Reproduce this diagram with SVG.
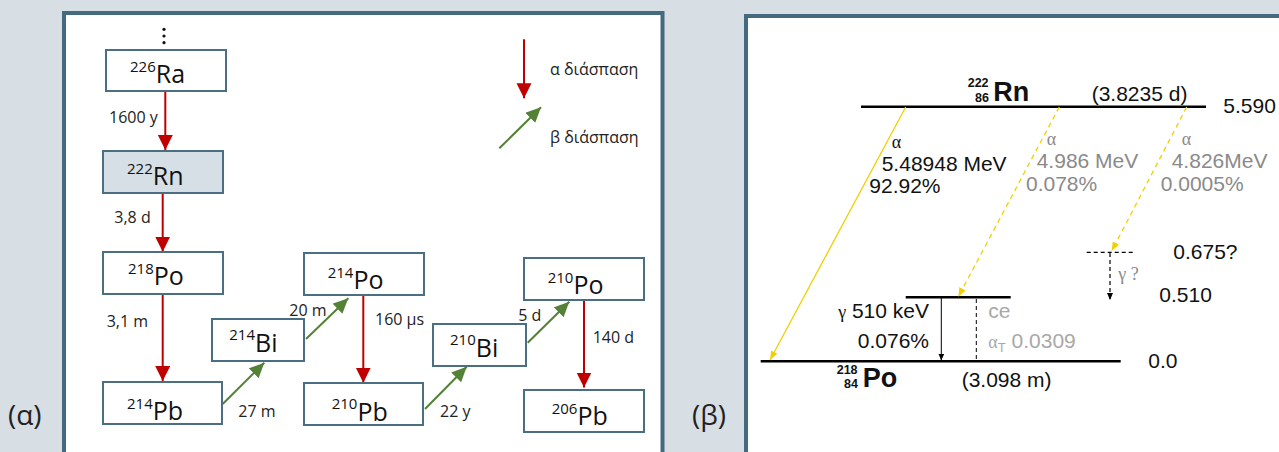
<svg xmlns="http://www.w3.org/2000/svg" width="1279" height="452" viewBox="0 0 1279 452">
<style>
.panel{fill:#fff;stroke:#436a7e;stroke-width:4}
.box{fill:#fff;stroke:#4a6f83;stroke-width:2}
.boxg{fill:#d6dfe5;stroke:#4a6f83;stroke-width:2}
.sup{font-family:"Open Sans","Liberation Sans",sans-serif;font-size:15px;fill:#111}
.el{font-family:"Open Sans","Liberation Sans",sans-serif;font-size:25px;fill:#111}
.lab{font-family:"Open Sans","Liberation Sans",sans-serif;font-size:16px;fill:#222}
.big{font-family:"Open Sans","Liberation Sans",sans-serif;font-size:28px;fill:#222}
.red{stroke:#c00000;stroke-width:2;fill:none}
.grn{stroke:#538135;stroke-width:2;fill:none}
.t{font-family:"Liberation Sans",Arial,sans-serif;font-size:21px;fill:#111}
.g{fill:#8a8a8a}
.lg{fill:#a8a8a8}
.gr{font-family:"Liberation Serif","Times New Roman",serif;font-size:18px}
.nb{font-family:"Liberation Sans",Arial,sans-serif;font-weight:bold;fill:#111}
.lvl{stroke:#000;stroke-width:2.5}
.yel{stroke:#f0d000;stroke-width:1.3;fill:none}
.dash{stroke-dasharray:5,4}
</style>
<defs>
<marker id="ar" markerUnits="userSpaceOnUse" markerWidth="16" markerHeight="16" refX="15" refY="7.5" orient="auto"><path d="M0,0L15,7.5L0,15z" fill="#c00000"/></marker>
<marker id="ag" markerUnits="userSpaceOnUse" markerWidth="16" markerHeight="16" refX="15" refY="7" orient="auto"><path d="M0,0L15,7L0,14z" fill="#538135"/></marker>
<marker id="ay" markerUnits="userSpaceOnUse" markerWidth="10" markerHeight="8" refX="9" refY="3.5" orient="auto"><path d="M0,0L9,3.5L0,7z" fill="#f0d000"/></marker>
<marker id="ak" markerUnits="userSpaceOnUse" markerWidth="8" markerHeight="8" refX="7" refY="3" orient="auto"><path d="M0,0L7,3L0,6z" fill="#000"/></marker>
</defs>
<rect width="1279" height="452" fill="#d7dfe5"/>
<rect class="panel" x="64" y="13" width="598.5" height="460"/>
<rect class="panel" x="746" y="16" width="600" height="460"/>
<text class="big" x="8" y="425">(α)</text>
<text class="big" x="692" y="425">(β)</text>
<g id="dots" fill="#111"><circle cx="164" cy="29.3" r="1.6"/><circle cx="164" cy="36" r="1.6"/><circle cx="164" cy="42.7" r="1.6"/></g>
<g id="connectors">
<line class="red" x1="165.3" y1="92" x2="165.3" y2="150" marker-end="url(#ar)"/>
<line class="red" x1="162.7" y1="193" x2="162.7" y2="251.7" marker-end="url(#ar)"/>
<line class="red" x1="162.7" y1="294" x2="162.7" y2="381" marker-end="url(#ar)"/>
<line class="red" x1="363.3" y1="296" x2="363.3" y2="382.7" marker-end="url(#ar)"/>
<line class="red" x1="584" y1="301" x2="584" y2="387.5" marker-end="url(#ar)"/>
<line class="grn" x1="222.7" y1="404" x2="264.3" y2="362.7" marker-end="url(#ag)"/>
<line class="grn" x1="306" y1="339" x2="348.3" y2="298.3" marker-end="url(#ag)"/>
<line class="grn" x1="425" y1="409" x2="466.7" y2="366.7" marker-end="url(#ag)"/>
<line class="grn" x1="527.7" y1="342.7" x2="569.3" y2="301.7" marker-end="url(#ag)"/>
<text class="lab" x="109" y="122.7">1600 y</text>
<text class="lab" x="114.3" y="223">3,8 d</text>
<text class="lab" x="106.7" y="326.7">3,1 m</text>
<text class="lab" x="238.3" y="416.7">27 m</text>
<text class="lab" x="289.3" y="316">20 m</text>
<text class="lab" x="375" y="325">160 µs</text>
<text class="lab" x="440" y="416.7">22 y</text>
<text class="lab" x="518.3" y="320.7">5 d</text>
<text class="lab" x="592.7" y="342.7">140 d</text>
</g>
<g id="legend">
<line class="red" x1="524" y1="39.3" x2="524" y2="98.3" marker-end="url(#ar)"/>
<line class="grn" x1="499.3" y1="148.3" x2="541" y2="107.3" marker-end="url(#ag)"/>
<text class="lab" x="550" y="75">α διάσπαση</text>
<text class="lab" x="550" y="143.3">β διάσπαση</text>
</g>
<g id="ra226"><rect class="box" x="106" y="50" width="120" height="41"/><text x="130" y="83"><tspan class="sup" dy="-11.5">226</tspan><tspan class="el" dy="11.5">Ra</tspan></text></g>
<g id="rn222"><rect class="boxg" x="103" y="151" width="120" height="42"/><text x="127" y="185"><tspan class="sup" dy="-11.5">222</tspan><tspan class="el" dy="11.5">Rn</tspan></text></g>
<g id="po218"><rect class="box" x="103" y="252" width="120" height="42"/><text x="128" y="285"><tspan class="sup" dy="-11.5">218</tspan><tspan class="el" dy="11.5">Po</tspan></text></g>
<g id="pb214"><rect class="box" x="103" y="382" width="119" height="42"/><text x="127" y="420"><tspan class="sup" dy="-11.5">214</tspan><tspan class="el" dy="11.5">Pb</tspan></text></g>
<g id="bi214"><rect class="box" x="212" y="319" width="92" height="42"/><text x="229.3" y="351.7"><tspan class="sup" dy="-11.5">214</tspan><tspan class="el" dy="11.5">Bi</tspan></text></g>
<g id="po214"><rect class="box" x="304" y="253" width="120" height="42"/><text x="327.7" y="289"><tspan class="sup" dy="-11.5">214</tspan><tspan class="el" dy="11.5">Po</tspan></text></g>
<g id="pb210"><rect class="box" x="304" y="383" width="119" height="42"/><text x="331.7" y="420.7"><tspan class="sup" dy="-11.5">210</tspan><tspan class="el" dy="11.5">Pb</tspan></text></g>
<g id="bi210"><rect class="box" x="433" y="324" width="93" height="42"/><text x="450" y="356.7"><tspan class="sup" dy="-11.5">210</tspan><tspan class="el" dy="11.5">Bi</tspan></text></g>
<g id="po210"><rect class="box" x="524" y="258" width="120" height="42"/><text x="547.7" y="294"><tspan class="sup" dy="-11.5">210</tspan><tspan class="el" dy="11.5">Po</tspan></text></g>
<g id="pb206"><rect class="box" x="524" y="390" width="120" height="42"/><text x="551.7" y="425"><tspan class="sup" dy="-11.5">206</tspan><tspan class="el" dy="11.5">Pb</tspan></text></g>
<g id="levels">
<line class="lvl" x1="861" y1="106.7" x2="1206" y2="106.7"/>
<line class="lvl" x1="760.7" y1="361.3" x2="1120.7" y2="361.3"/>
<line class="lvl" x1="905.7" y1="297.3" x2="1010.7" y2="297.3"/>
<line x1="1086.7" y1="252.3" x2="1135" y2="252.3" stroke="#000" stroke-width="1.2" stroke-dasharray="4,3"/>
<text x="0" y="0"><tspan class="nb" x="967.7" y="87.3" font-size="12.5px">222</tspan><tspan class="nb" x="975" y="101.7" font-size="12.5px">86</tspan><tspan class="nb" x="993.3" y="100.7" font-size="27px">Rn</tspan></text>
<text x="0" y="0"><tspan class="nb" x="836.7" y="374" font-size="12.5px">218</tspan><tspan class="nb" x="844" y="388.3" font-size="12.5px">84</tspan><tspan class="nb" x="862.7" y="386.7" font-size="27px">Po</tspan></text>
<text class="t" x="1091.7" y="100.7">(3.8235 d)</text>
<text class="t" x="961.7" y="386.7">(3.098 m)</text>
<text class="t" x="1223.3" y="113.3">5.590</text>
<text class="t" x="1173.3" y="259">0.675?</text>
<text class="t" x="1159.3" y="301.7">0.510</text>
<text class="t" x="1148.3" y="368.3">0.0</text>
</g>
<g id="transitions">
<line class="yel" x1="905.7" y1="107" x2="770" y2="360" marker-end="url(#ay)"/>
<line class="yel dash" x1="1059.3" y1="107" x2="958.3" y2="296.7" marker-end="url(#ay)"/>
<line class="yel dash" x1="1186.7" y1="107" x2="1111.7" y2="251" marker-end="url(#ay)"/>
<line x1="941.3" y1="298" x2="941.3" y2="360.5" stroke="#000" stroke-width="1" marker-end="url(#ak)"/>
<line x1="976.3" y1="299" x2="976.3" y2="360" stroke="#000" stroke-width="1" stroke-dasharray="4,3"/>
<line x1="1110" y1="253" x2="1110" y2="300" stroke="#000" stroke-width="1.2" stroke-dasharray="4,3" marker-end="url(#ak)"/>
<text class="gr" x="891.7" y="148.3" fill="#111">α</text>
<text class="t" x="881.7" y="170.7">5.48948 MeV</text>
<text class="t" x="869.3" y="193.3">92.92%</text>
<text class="gr g" x="1046.7" y="145">α</text>
<text class="t g" x="1036.7" y="168.3">4.986 MeV</text>
<text class="t g" x="1026" y="190.7">0.078%</text>
<text class="gr g" x="1181.7" y="145">α</text>
<text class="t g" x="1171.7" y="168.3">4.826MeV</text>
<text class="t g" x="1160.7" y="190.7">0.0005%</text>
<text class="t" x="929" y="318.3" text-anchor="end"><tspan class="gr">γ</tspan> 510 keV</text>
<text class="t" x="929" y="347.7" text-anchor="end">0.076%</text>
<text class="t lg" x="988.3" y="318.3">ce</text>
<text class="t lg" x="988.3" y="347.7"><tspan class="gr">α</tspan><tspan font-size="13px" dy="4">T</tspan><tspan dy="-4"> 0.0309</tspan></text>
<text class="gr g" x="1118.3" y="280" font-size="20px">γ ?</text>
</g>
</svg>
